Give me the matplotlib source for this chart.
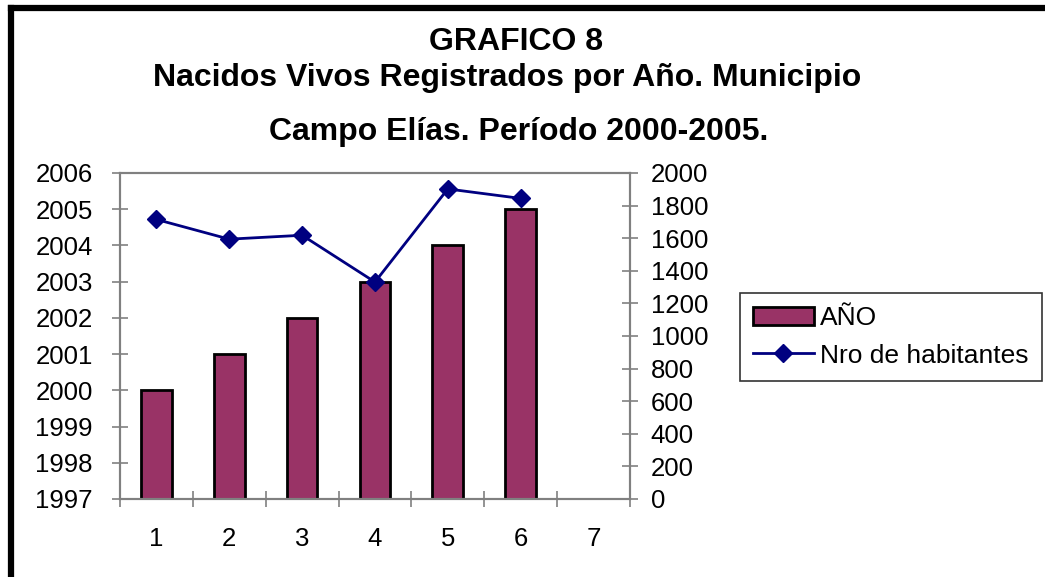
import numpy as np
import matplotlib.pyplot as plt
from matplotlib.lines import Line2D

plt.rcParams['font.family'] = ['Liberation Sans', 'DejaVu Sans']

# data
categories = [1, 2, 3, 4, 5, 6, 7]
anio = [2000, 2001, 2002, 2003, 2004, 2005]
habitantes = [1715, 1594, 1618, 1331, 1902, 1844]
left_ticks = list(range(1997, 2007))
right_ticks = list(range(0, 2001, 200))

BAR_COLOR = '#993366'
LINE_COLOR = '#000080'
AXIS_GRAY = '#808080'

fig = plt.figure(figsize=(10.45, 5.77), dpi=100)
ax = fig.add_axes([0.1148, 0.1352, 0.4880, 0.565])

x = np.arange(1, len(anio) + 1)
ax.bar(x, np.array(anio) - 1997, bottom=1997, width=0.42,
       color=BAR_COLOR, edgecolor='black', linewidth=2, label='AÑO', zorder=2)
ax.set_ylim(1997, 2006)
ax.set_xlim(0.5, len(categories) + 0.5)
ax.set_yticks(left_ticks)
ax.set_xticks(categories)
ax.set_xticks(np.arange(0.5, len(categories) + 1), minor=True)
ax.tick_params(axis='x', which='major', length=0, pad=20, labelsize=18.5)
ax.tick_params(axis='x', which='minor', length=11, direction='inout',
               color=AXIS_GRAY, width=1.2)
ax.tick_params(axis='y', length=11, direction='inout', color=AXIS_GRAY,
               width=1.2, pad=14, labelsize=18.5)

ax2 = ax.twinx()
ax2.plot(x, habitantes, color=LINE_COLOR, linewidth=2, marker='D',
         markersize=9, label='Nro de habitantes', zorder=3)
ax2.set_ylim(0, 2000)
ax2.set_yticks(right_ticks)
ax2.tick_params(axis='y', length=11, direction='inout', color=AXIS_GRAY,
                width=1.2, pad=9.5, labelsize=18.5)

for a in (ax, ax2):
    for s in a.spines.values():
        s.set_color(AXIS_GRAY)
        s.set_linewidth(1.5)

# titles
fig.text(0.494, 0.928, 'GRAFICO 8', ha='center', va='center',
         fontsize=23, fontweight='bold')
fig.text(0.485, 0.864, 'Nacidos Vivos Registrados por Año. Municipio',
         ha='center', va='center', fontsize=23, fontweight='bold')
fig.text(0.496, 0.772, 'Campo Elías. Período 2000-2005.',
         ha='center', va='center', fontsize=23, fontweight='bold')

# legend
h1, l1 = ax.get_legend_handles_labels()
h2, l2 = ax2.get_legend_handles_labels()
leg = fig.legend(h1 + h2, l1 + l2, loc='upper left',
                 bbox_to_anchor=(0.708, 0.492), fontsize=19,
                 frameon=True, fancybox=False, edgecolor='black',
                 handlelength=2.3, handletextpad=0.25, borderpad=0.5,
                 labelspacing=0.5, borderaxespad=0)
leg.get_frame().set_linewidth(1.2)

# outer frame (top and left edges visible)
fig.add_artist(Line2D([0.0105, 1.0], [0.986, 0.986], color='black',
                      linewidth=4.5, transform=fig.transFigure))
fig.add_artist(Line2D([0.0105, 0.0105], [0.0, 0.986], color='black',
                      linewidth=4.5, transform=fig.transFigure))

fig.savefig('out.png', dpi=100)
